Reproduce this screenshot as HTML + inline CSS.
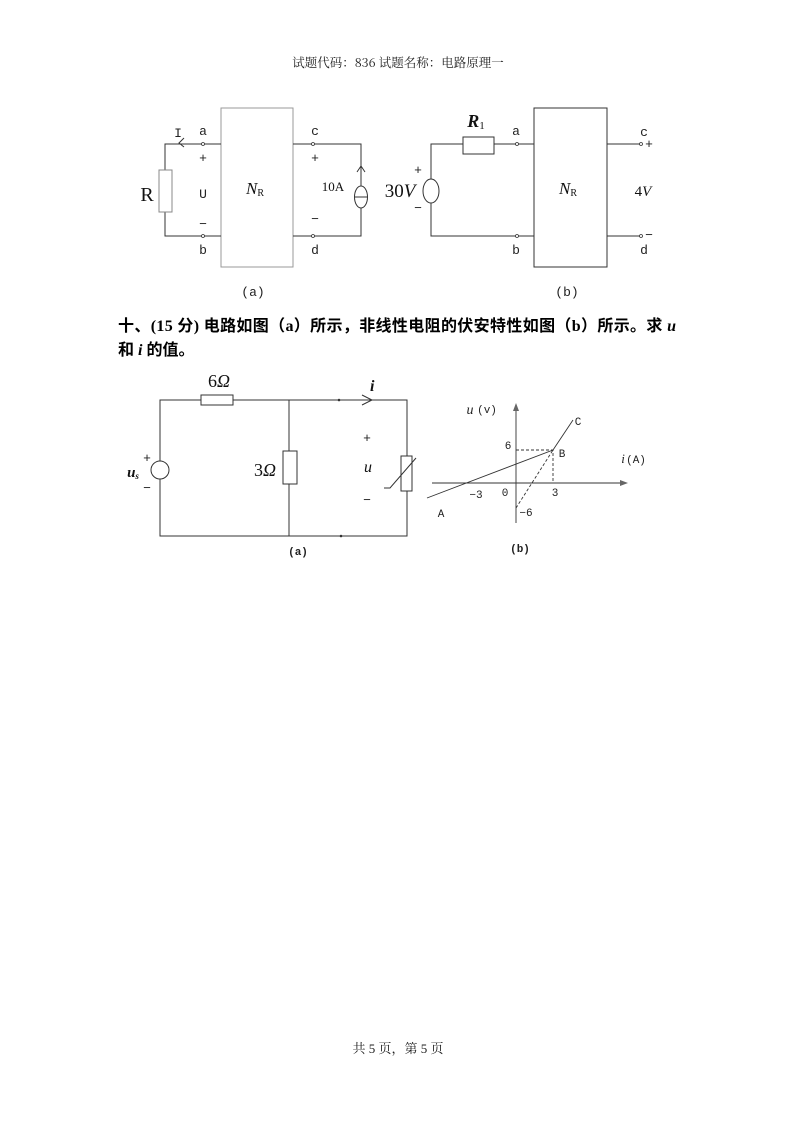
<!DOCTYPE html>
<html><head><meta charset="utf-8"><style>
html,body{margin:0;padding:0;background:#fff;}
body{width:794px;height:1123px;position:relative;overflow:hidden;}
svg{position:absolute;left:0;top:0;}
.t{font-family:"Liberation Serif","Noto Serif CJK SC",serif;}
.m{font-family:"Liberation Mono","Noto Sans CJK SC",monospace;}
</style></head><body>
<svg width="794" height="1123" viewBox="0 0 794 1123" xmlns="http://www.w3.org/2000/svg">
<g fill="none" stroke="#333" stroke-width="1">
<rect x="221" y="108" width="72" height="159" stroke="#999"/>
<path d="M221 144H165V170M165 212V236H221" />
<rect x="159" y="170" width="13" height="42" stroke="#888"/>
<path d="M293 144H361V186M361 208V236H293"/>
<ellipse cx="361" cy="197" rx="6.5" ry="11"/>
<path d="M354.5 197H367.5"/>
<path d="M357 172L361 166L365 172"/>
<path d="M184 138L179 143L184 147"/>
<rect x="534" y="108" width="73" height="159"/>
<path d="M431 179V144H463M494 144H534M431 203V236H534M607 144H641M607 236H641"/>
<rect x="463" y="137" width="31" height="17"/>
<ellipse cx="431" cy="191" rx="8" ry="12"/>
</g>
<g fill="#fff" stroke="#333" stroke-width="0.8">
<circle cx="203" cy="144" r="1.5"/><circle cx="203" cy="236" r="1.5"/>
<circle cx="313" cy="144" r="1.5"/><circle cx="313" cy="236" r="1.5"/>
<circle cx="517" cy="144" r="1.5"/><circle cx="517" cy="236" r="1.5"/>
<circle cx="641" cy="144" r="1.5"/><circle cx="641" cy="236" r="1.5"/>
</g>
<g class="m" font-size="13" fill="#222" text-anchor="middle">
<text x="178" y="137">I</text><text x="203" y="135">a</text><text x="203" y="162">+</text>
<text x="203" y="198">U</text><text x="203" y="228">−</text><text x="203" y="254">b</text>
<text x="315" y="135">c</text><text x="315" y="162">+</text><text x="315" y="223">−</text><text x="315" y="254">d</text>
<text x="418" y="174">+</text><text x="418" y="212">−</text>
<text x="516" y="135">a</text><text x="516" y="254">b</text>
<text x="644" y="136">c</text><text x="649" y="148">+</text><text x="649" y="239">−</text><text x="644" y="254">d</text>
<text x="253" y="296">(a)</text><text x="567" y="296">(b)</text>
</g>
<g class="t" fill="#111">
<text x="147" y="201" font-size="20" text-anchor="middle">R</text>
<text x="255" y="194" font-size="17" font-style="italic" text-anchor="middle">N<tspan font-size="10" font-style="normal" dy="2">R</tspan></text>
<text x="568" y="194" font-size="17" font-style="italic" text-anchor="middle">N<tspan font-size="10" font-style="normal" dy="2">R</tspan></text>
<text x="333" y="191" font-size="13" text-anchor="middle">10A</text>
<text x="400" y="197" font-size="19" text-anchor="middle">30<tspan font-style="italic">V</tspan></text>
<text x="476" y="127" font-size="18" font-style="italic" font-weight="bold" text-anchor="middle">R<tspan font-size="11" font-style="normal" font-weight="normal" dy="2">1</tspan></text>
<text x="643" y="196" font-size="15" text-anchor="middle">4<tspan font-style="italic">V</tspan></text>
</g>
<text x="398" y="67" font-size="12.5" fill="#222" text-anchor="middle" style="font-family:'Noto Serif CJK SC','Liberation Mono',serif">试题代码：836 试题名称：电路原理一</text>
<g style="font-family:'Liberation Serif','Noto Sans CJK SC',sans-serif" font-size="16" font-weight="bold" fill="#000">
<text x="118" y="331" textLength="558" lengthAdjust="spacing">十、(15 分)  电路如图（a）所示，非线性电阻的伏安特性如图（b）所示。求 <tspan font-style="italic">u</tspan></text>
<text x="118" y="355">和 <tspan font-style="italic">i</tspan> 的值。</text>
</g>
<g fill="none" stroke="#333" stroke-width="1">
<path d="M160 461V400H201M233 400H407V456M407 491V536H160V479"/>
<rect x="201" y="395" width="32" height="10"/>
<circle cx="160" cy="470" r="9"/>
<path d="M289 400V451M289 484V536"/>
<rect x="283" y="451" width="14" height="33"/>
<rect x="401" y="456" width="11" height="35"/>
<path d="M384 488H390L416 458"/>
<path d="M362 395L372 400L362 405"/>
</g>
<circle cx="339" cy="400" r="1.3" fill="#333"/><circle cx="341" cy="536" r="1.3" fill="#333"/>
<g class="t" fill="#111">
<text x="219" y="387" font-size="18" text-anchor="middle">6<tspan font-style="italic">Ω</tspan></text>
<text x="265" y="476" font-size="18" text-anchor="middle">3<tspan font-style="italic">Ω</tspan></text>
<text x="370" y="391" font-size="16" font-style="italic" font-weight="bold">i</text>
<text x="368" y="472" font-size="16" font-style="italic" text-anchor="middle">u</text>
<text x="133" y="477" font-size="15" font-style="italic" font-weight="bold" text-anchor="middle">u<tspan font-size="9" dy="2">s</tspan></text>
</g>
<g class="m" font-size="13" fill="#222" text-anchor="middle">
<text x="147" y="462">+</text><text x="147" y="492">−</text>
<text x="367" y="442">+</text><text x="367" y="504">−</text>
<text x="298" y="555" font-size="11" font-weight="bold">(a)</text>
<text x="520" y="552" font-size="11" font-weight="bold">(b)</text>
</g>
<g fill="none" stroke="#333" stroke-width="0.9">
<path d="M516 523V410M432 483H622"/>
<path d="M427 498L553 450L573 420"/>
<path d="M516 508L553 450M516 450H553V483" stroke-dasharray="3,2"/>
</g>
<path d="M516 403L513 411H519Z M628 483L620 480V486Z" fill="#666"/>
<g class="m" font-size="11" fill="#222" text-anchor="middle">
<text x="470" y="414" font-size="14" font-style="italic" style="font-family:'Liberation Serif',serif">u</text>
<text x="487" y="413">(v)</text>
<text x="508" y="449">6</text><text x="562" y="457">B</text><text x="578" y="425">C</text>
<text x="623" y="463" font-size="13" font-style="italic" style="font-family:'Liberation Serif',serif">i</text>
<text x="636" y="463">(A)</text>
<text x="476" y="498">−3</text><text x="505" y="496">0</text><text x="555" y="496">3</text>
<text x="526" y="516">−6</text><text x="441" y="517">A</text>
</g>
<text x="398" y="1053" font-size="13" fill="#222" text-anchor="middle" class="t">共 5 页，第 5 页</text>
</svg>
</body></html>
